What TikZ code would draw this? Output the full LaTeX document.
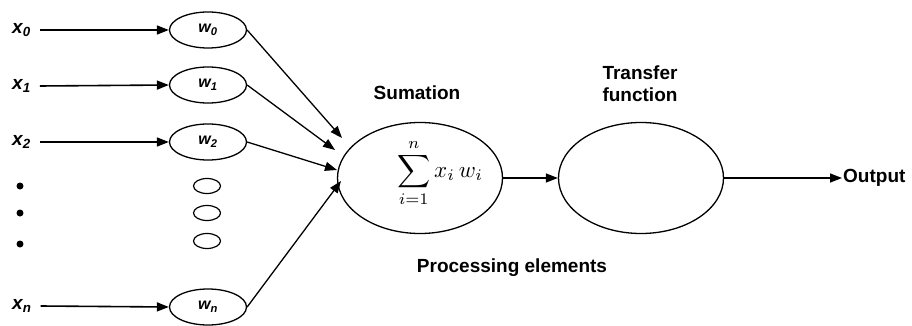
\documentclass[tikz,border=0pt]{standalone}
\usepackage{fontspec}
\usepackage{graphicx}
\setmainfont{Liberation Sans}
\usetikzlibrary{shapes.geometric,arrows.meta}
\begin{document}
\begin{tikzpicture}[x=1pt,y=-1pt,
  lbl/.style={font=\fontsize{19}{22}\selectfont\bfseries, inner sep=1pt},
  xlbl/.style={font=\fontsize{19}{22}\selectfont\bfseries\itshape, inner sep=1pt, anchor=west},
  wnode/.style={ellipse,draw,line width=1.3pt,minimum width=77pt,minimum height=36pt,inner sep=0pt,font=\fontsize{16}{17}\selectfont\bfseries\itshape},
  smallell/.style={ellipse,draw,line width=1.2pt,minimum width=27pt,minimum height=15pt,inner sep=0pt},
  bigell/.style={ellipse,draw,line width=1.3pt,minimum width=165pt,minimum height=111pt,inner sep=0pt},
  dotnode/.style={circle,fill,inner sep=0pt,minimum size=7pt},
  arr/.style={-{Triangle[length=12pt,width=9pt]},line width=1.6pt},
  link/.style={line width=1.3pt},
]
\useasboundingbox (0,0) rectangle (912,326);

% inputs
\node[xlbl] (x0) at (11,30) {x\textsubscript{0}};
\node[xlbl] (x1) at (11,86) {x\textsubscript{1}};
\node[xlbl] (x2) at (11,142) {x\textsubscript{2}};
\node[xlbl] (xn) at (11,306) {x\textsubscript{n}};

% weights
\node[wnode] (w0) at (208,30) {w\textsubscript{0}};
\node[wnode] (w1) at (208,85) {w\textsubscript{1}};
\node[wnode] (w2) at (208,142) {w\textsubscript{2}};
\node[wnode] (wn) at (208,307) {w\textsubscript{n}};

% dots and small ellipses
\node[dotnode] (d1) at (20,186) {};
\node[dotnode] (d2) at (20,213) {};
\node[dotnode] (d3) at (20,244) {};
\node[smallell] (s1) at (207,186) {};
\node[smallell] (s2) at (207,213) {};
\node[smallell] (s3) at (207,241) {};

% input arrows
\draw[arr] ([xshift=8pt]x0.east) -- (w0.west);
\draw[arr] ([xshift=8pt]x1.east) -- (w1.west);
\draw[arr] ([xshift=8pt]x2.east) -- (w2.west);
\draw[arr] ([xshift=8pt]xn.east) -- (wn.west);

% summation
\node[bigell] (sum) at (420,178) {};
\node[inner sep=0pt] (sumtxt) at (440,173) {\scalebox{2.3}{$\displaystyle\sum_{i=1}^{n} x_i\, w_i$}};
\node[lbl] (sumlbl) at (417,93) {Sumation};

\coordinate (t0) at (342,138);
\coordinate (t1) at (335,150);
\coordinate (t2) at (337,170);
\coordinate (tn) at (341,181);
\draw[link,-{Triangle[length=12pt,width=9pt]}] (w0.east) -- (t0);
\draw[link,-{Triangle[length=12pt,width=9pt]}] (w1.east) -- (t1);
\draw[link,-{Triangle[length=12pt,width=9pt]}] (w2.east) -- (t2);
\draw[link,-{Triangle[length=12pt,width=9pt]}] (wn.east) -- (tn);

% transfer
\node[bigell] (tf) at (641,178) {};
\node[lbl,align=center] (tflbl) at (640,84) {Transfer\\function};
\draw[link,-{Triangle[length=12pt,width=9pt]}] (sum.east) -- (tf.west);

% output
\node[lbl,anchor=west] (out) at (842,178) {Output};
\draw[arr] (tf.east) -- (out.west);

\node[lbl] (pe) at (512,268) {Processing elements};
\end{tikzpicture}
\end{document}
